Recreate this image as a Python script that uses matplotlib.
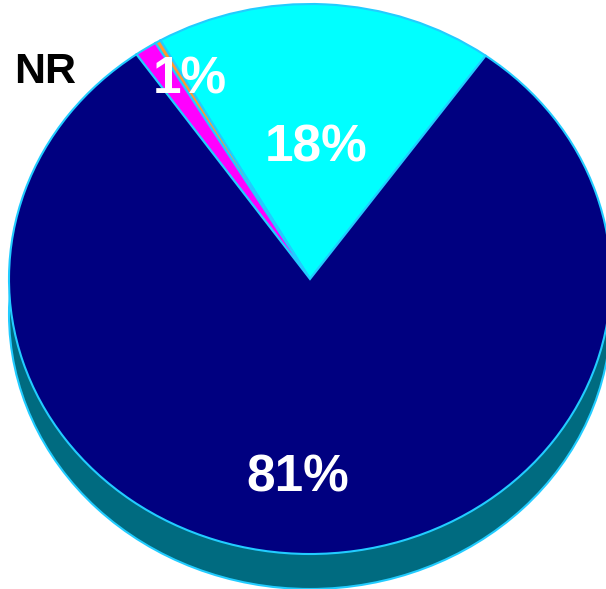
import matplotlib.pyplot as plt
from matplotlib.patches import Ellipse

# slice shares (percent), counterclockwise from the right edge of the cyan slice
shares = [18.2, 0.3, 1.2, 80.3]
colors = ["#00FFFF", "#FF9933", "#FF00FF", "#000080"]
labels = ["18%", "", "1%", "81%"]
label_xy = [(316, 148), None, (190, 80), (298, 478)]
outside_label = "NR"

W, H = 606, 589
cx, cy = 310, 279       # pie centre in pixels
rx, ry = 301, 275       # ellipse radii in pixels
depth = 35              # pixel thickness of the pie side

fig = plt.figure(figsize=(W / 100, H / 100), dpi=100)
ax = fig.add_axes([0, 0, 1, 1])

# data units: pie radius 1 maps onto the ellipse
ax.pie(shares, colors=colors, startangle=54.3, counterclock=True, radius=1,
       wedgeprops=dict(edgecolor="#22CCFF", linewidth=1.5, zorder=3))
ax.set_aspect("auto")
ax.set_xlim(-cx / rx, (W - cx) / rx)
ax.set_ylim(-(H - cy) / ry, cy / ry)

# side of the pie
side = Ellipse((0, -depth / ry), 2, 2, facecolor="#006B80", edgecolor="#22CCFF",
               linewidth=1.5, zorder=1)
ax.add_patch(side)


def to_data(px, py):
    return (px - cx) / rx, (cy - py) / ry


for lab, xy in zip(labels, label_xy):
    if xy is None:
        continue
    x, y = to_data(*xy)
    ax.text(x, y, lab, color="white", fontsize=37, fontweight="bold",
            family="Liberation Sans", ha="center", va="center", zorder=5)

x, y = to_data(45, 72)
ax.text(x, y, outside_label, color="black", fontsize=31, fontweight="bold",
        family="Liberation Sans", ha="center", va="center", zorder=5)

ax.axis("off")
fig.savefig("out.png", dpi=100)
